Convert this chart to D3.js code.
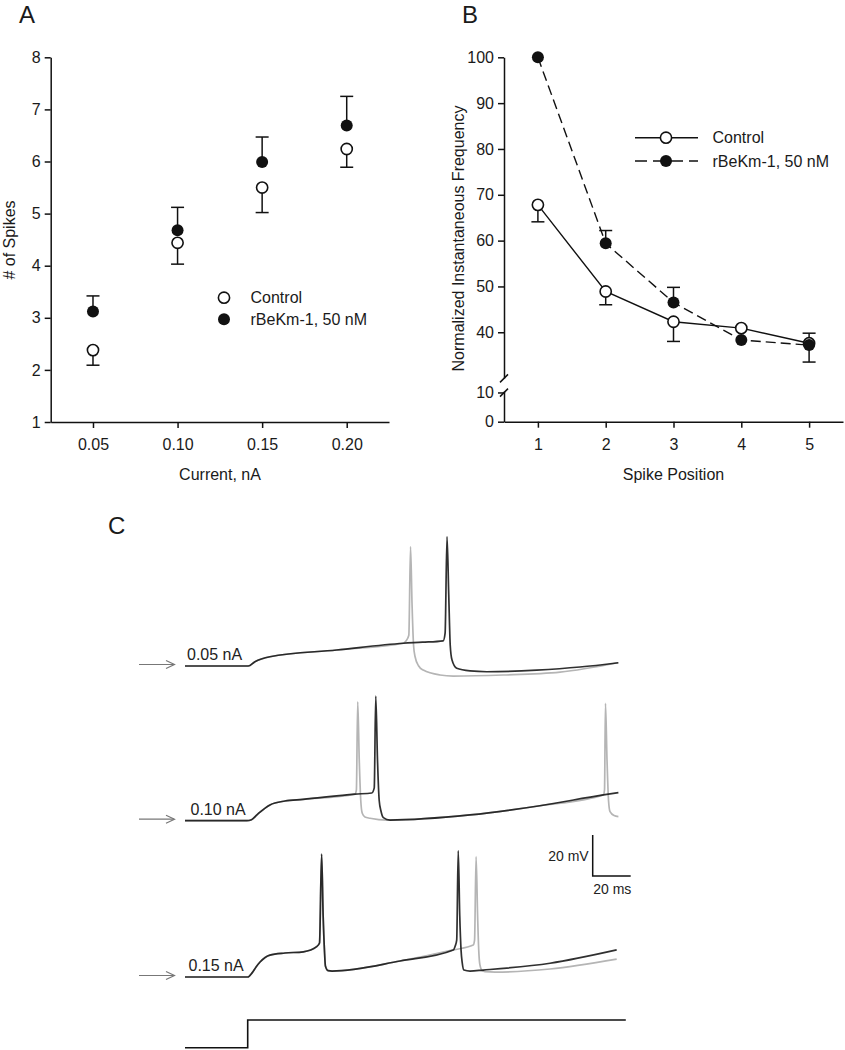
<!DOCTYPE html>
<html>
<head>
<meta charset="utf-8">
<script src="https://cdn.jsdelivr.net/npm/d3@7"></script>
<style>
  html, body { margin: 0; padding: 0; background: #fff; }
  svg { display: block; font-family: "Liberation Sans", Arial, sans-serif; }
  .axis path, .axis line { stroke: #111; stroke-width: 1.5; }
  .axis text { font-size: 16px; fill: #1a1a1a; font-family: "Liberation Sans", Arial, sans-serif; }
</style>
</head>
<body>
<svg id="fig" width="845" height="1050"></svg>
<script>
// ---------------- DATA ----------------
// Panel A: # of spikes vs current
const currents = [0.05, 0.10, 0.15, 0.20];
const currentTickLabels = ["0.05", "0.10", "0.15", "0.20"];
const spikeTicks = [1, 2, 3, 4, 5, 6, 7, 8];
const spikesControl = [2.38, 4.44, 5.50, 6.24];
const spikesControlSem = [0.29, 0.41, 0.48, 0.35];   // drawn downward
const spikesToxin = [3.12, 4.68, 5.99, 6.69];
const spikesToxinSem = [0.30, 0.44, 0.48, 0.56];     // drawn upward

// Panel B: normalized instantaneous frequency vs spike position
const positions = [1, 2, 3, 4, 5];
const freqControl = [67.8, 48.9, 42.3, 40.9, 37.6];
const freqControlSem = [3.7, 2.9, 4.3, 0.6, 4.1];     // drawn downward
const freqToxin = [100, 59.4, 46.5, 38.3, 37.2];
const freqToxinSem = [0, 2.8, 3.3, 0.5, 2.6];          // drawn upward
const freqTicksUpper = [40, 50, 60, 70, 80, 90, 100];
const freqTicksLower = [0, 10];

const seriesNames = ["Control", "rBeKm-1, 50 nM"];
const traceLabels = ["0.05 nA", "0.10 nA", "0.15 nA"];

// Panel C: membrane potential traces, [time ms, mV]
const trace1Common = [[0,-65],[33.3,-65],[36.8,-62.9],[44.7,-60.5],[79.8,-57.2],[114.9,-53.9]];
const trace1Gray = [[116.3,-52.8],[117.8,-50],[118.7,-6.8],[119.5,-35],[120.3,-55],[121.1,-60.5],[123,-65],[125.4,-67],[134.2,-69.4],[141.2,-69.9],[167.4,-69.4],[197.4,-68],[227.9,-63.4]];
const trace1Black = [[125,-53.4],[135.9,-52.7],[136.9,-49],[137.9,-1.9],[138.8,-30],[139.6,-55],[140.5,-62],[143,-66.1],[150,-67.4],[158.8,-67.8],[185.1,-67],[207.9,-65.5],[228.1,-63.4]];

const trace2Common = [[0,-65],[32.5,-65],[35,-64.5],[38,-62],[44.7,-57.3],[52.6,-55.4],[62.1,-54.6],[89.5,-52]];
const trace2Gray = [[90.2,-50],[90.9,-7],[91.7,-35],[92.5,-55],[93.3,-61.4],[94.7,-63.2],[97.4,-63.8],[106.2,-64.7],[150,-62.2],[186.8,-57.7],[220.2,-52.4],[220.8,-50],[221.3,-7.7],[222.1,-35],[222.9,-55],[223.7,-60.6],[225.8,-62.5],[228.1,-63]];
const trace2Black = [[98.3,-51.5],[99.6,-49],[100.4,-4.2],[101.3,-35],[102.2,-55],[103.2,-60.5],[104.4,-63.5],[107.9,-64.7],[150,-62.2],[186.8,-57.7],[220.2,-52.4],[228.1,-51.3]];

const trace3Common = [[0,-65],[33,-65],[35.3,-63],[37.5,-60],[39.5,-57.7],[44.7,-54.3],[52.6,-53.3],[62.3,-52.7],[69.3,-50.2],[70.8,-48.4],[71.9,-5],[72.7,-35],[73.4,-52],[73.9,-59.6],[75.3,-61.9],[77.4,-62.1],[113.2,-57.2],[141.2,-51.8]];
const trace3Black = [[142.1,-50.2],[143,-47],[143.8,-3.4],[144.6,-35],[145.3,-52],[145.9,-58],[146.8,-61.6],[150,-62.1],[157,-61.6],[192.1,-58.3],[227.2,-51.8]];
const trace3Gray = [[151.7,-49.4],[152.4,-47],[153.2,-6.3],[154,-35],[154.6,-52],[155.2,-59],[156.3,-61.8],[157.9,-62.4],[163.2,-62.6],[192.1,-61.1],[227.2,-56.3]];

const stimTimes = [0, 33, 232];
const stimLevels = [0, 1, 1];
const scaleBarMv = 20;
const scaleBarMs = 20;

// ---------------- DRAW ----------------
const svg = d3.select("#fig");
const textCol = "#1a1a1a";

function panelLabel(t, x, y) {
  svg.append("text").attr("x", x).attr("y", y).attr("font-size", 24)
    .attr("fill", textCol).text(t);
}

// ===== Panel A =====
panelLabel("A", 19, 23);
const xA = d3.scaleLinear().domain([0.025, 0.225]).range([50.7, 389]);
const yA = d3.scaleLinear().domain([1, 8]).range([422, 57.3]);

svg.append("g").attr("class", "axis").attr("transform", "translate(50.7,0)")
  .call(d3.axisLeft(yA).tickValues(spikeTicks).tickFormat(d3.format("d")).tickSize(6).tickSizeOuter(0).tickPadding(4));
svg.append("g").attr("class", "axis").attr("transform", "translate(0,422)")
  .call(d3.axisBottom(xA).tickValues(currents).tickFormat((d, i) => currentTickLabels[i]).tickSize(6).tickSizeOuter(0).tickPadding(11));

svg.append("text").attr("transform", "translate(14.5,240) rotate(-90)")
  .attr("text-anchor", "middle").attr("font-size", 16).attr("fill", textCol).text("# of Spikes");
svg.append("text").attr("x", 220).attr("y", 480).attr("text-anchor", "middle")
  .attr("font-size", 16).attr("fill", textCol).text("Current, nA");

const gA = svg.append("g");
function errBar(g, x, y0, y1) {
  g.append("line").attr("x1", x).attr("x2", x).attr("y1", y0).attr("y2", y1).attr("stroke", "#111").attr("stroke-width", 1.5);
  g.append("line").attr("x1", x - 6.5).attr("x2", x + 6.5).attr("y1", y1).attr("y2", y1).attr("stroke", "#111").attr("stroke-width", 1.5);
}
currents.forEach((c, i) => {
  errBar(gA, xA(c), yA(spikesControl[i]), yA(spikesControl[i] - spikesControlSem[i]));
  errBar(gA, xA(c), yA(spikesToxin[i]), yA(spikesToxin[i] + spikesToxinSem[i]));
});
gA.selectAll("circle.ctl").data(currents).join("circle")
  .attr("cx", d => xA(d)).attr("cy", (d, i) => yA(spikesControl[i])).attr("r", 5.6)
  .attr("fill", "#fff").attr("stroke", "#111").attr("stroke-width", 1.6);
gA.selectAll("circle.tox").data(currents).join("circle")
  .attr("cx", d => xA(d)).attr("cy", (d, i) => yA(spikesToxin[i])).attr("r", 6)
  .attr("fill", "#111");

// legend A
svg.append("circle").attr("cx", 224).attr("cy", 297.7).attr("r", 5.6).attr("fill", "#fff").attr("stroke", "#111").attr("stroke-width", 1.6);
svg.append("circle").attr("cx", 224).attr("cy", 319.3).attr("r", 6).attr("fill", "#111");
svg.append("text").attr("x", 250.5).attr("y", 303.3).attr("font-size", 16).attr("fill", textCol).text(seriesNames[0]);
svg.append("text").attr("x", 250.5).attr("y", 324.9).attr("font-size", 16).attr("fill", textCol).text(seriesNames[1]);

// ===== Panel B =====
panelLabel("B", 462, 23);
const axB = 504;
const xB = d3.scaleLinear().domain([0.5, 5.5]).range([axB, 843]);
const yBU = d3.scaleLinear().domain([30, 100]).range([378.1, 57.3]);

svg.append("g").attr("class", "axis").attr("transform", `translate(${axB},0)`)
  .call(d3.axisLeft(yBU).tickValues(freqTicksUpper).tickFormat(d3.format("d")).tickSize(6).tickSizeOuter(0).tickPadding(4));
svg.append("g").attr("class", "axis").attr("transform", `translate(${axB},0)`)
  .call(d3.axisLeft(d3.scaleLinear().domain([0, 10.5]).range([421.7, 391])).tickValues(freqTicksLower).tickFormat(d3.format("d")).tickSize(6).tickSizeOuter(0).tickPadding(4));
svg.append("g").attr("class", "axis").attr("transform", "translate(0,421.7)")
  .call(d3.axisBottom(xB).tickValues(positions).tickFormat(d3.format("d")).tickSize(6).tickSizeOuter(0).tickPadding(11));
// break marks
[378.4, 392.6].forEach(yy => {
  svg.append("line").attr("x1", axB - 4).attr("x2", axB + 4).attr("y1", yy + 4).attr("y2", yy - 4)
    .attr("stroke", "#111").attr("stroke-width", 1.5);
});

svg.append("text").attr("transform", "translate(464,238.5) rotate(-90)")
  .attr("text-anchor", "middle").attr("font-size", 16).attr("fill", textCol).text("Normalized Instantaneous Frequency");
svg.append("text").attr("x", 673.5).attr("y", 480).attr("text-anchor", "middle")
  .attr("font-size", 16).attr("fill", textCol).text("Spike Position");

const gB = svg.append("g");
const lineB = d3.line().x(d => xB(d[0])).y(d => yBU(d[1]));
gB.append("path").datum(positions.map((p, i) => [p, freqControl[i]])).attr("d", lineB)
  .attr("fill", "none").attr("stroke", "#111").attr("stroke-width", 1.4);
gB.append("path").datum(positions.map((p, i) => [p, freqToxin[i]])).attr("d", lineB)
  .attr("fill", "none").attr("stroke", "#111").attr("stroke-width", 1.4).attr("stroke-dasharray", "10,5");
positions.forEach((p, i) => {
  if (freqControlSem[i] > 1) errBar(gB, xB(p), yBU(freqControl[i]), yBU(freqControl[i] - freqControlSem[i]));
  if (freqToxinSem[i] > 1) errBar(gB, xB(p), yBU(freqToxin[i]), yBU(freqToxin[i] + freqToxinSem[i]));
});
gB.selectAll("circle.ctl").data(positions).join("circle")
  .attr("cx", d => xB(d)).attr("cy", (d, i) => yBU(freqControl[i])).attr("r", 5.6)
  .attr("fill", "#fff").attr("stroke", "#111").attr("stroke-width", 1.6);
gB.selectAll("circle.tox").data(positions).join("circle")
  .attr("cx", d => xB(d)).attr("cy", (d, i) => yBU(freqToxin[i])).attr("r", 6)
  .attr("fill", "#111");

// legend B
svg.append("line").attr("x1", 635).attr("x2", 698).attr("y1", 137.7).attr("y2", 137.7).attr("stroke", "#111").attr("stroke-width", 1.4);
svg.append("circle").attr("cx", 666).attr("cy", 137.7).attr("r", 5.6).attr("fill", "#fff").attr("stroke", "#111").attr("stroke-width", 1.6);
svg.append("line").attr("x1", 635).attr("x2", 698).attr("y1", 161).attr("y2", 161).attr("stroke", "#111").attr("stroke-width", 1.4).attr("stroke-dasharray", "12,6");
svg.append("circle").attr("cx", 666).attr("cy", 161).attr("r", 6).attr("fill", "#111");
svg.append("text").attr("x", 712.5).attr("y", 143.3).attr("font-size", 16).attr("fill", textCol).text(seriesNames[0]);
svg.append("text").attr("x", 712.5).attr("y", 166.6).attr("font-size", 16).attr("fill", textCol).text(seriesNames[1]);

// ===== Panel C =====
panelLabel("C", 108, 534);
const xC = d3.scaleLinear().domain([0, 20]).range([185, 185 + 38]);
const mvPx = 41 / 20;
const baselines = [666, 820.7, 977];
const traces = [
  { common: trace1Common, gray: trace1Gray, black: trace1Black },
  { common: trace2Common, gray: trace2Gray, black: trace2Black },
  { common: trace3Common, gray: trace3Gray, black: trace3Black }
];
const gC = svg.append("g");
traces.forEach((tr, k) => {
  const yC = d3.scaleLinear().domain([-65, -15]).range([baselines[k], baselines[k] - 50 * mvPx]);
  const ln = d3.line().x(d => xC(d[0])).y(d => yC(d[1])).curve(d3.curveMonotoneX);
  gC.append("path").datum(tr.common.concat(tr.gray)).attr("d", ln)
    .attr("fill", "none").attr("stroke", "#b5b5b5").attr("stroke-width", 1.7).attr("stroke-linejoin", "round");
  gC.append("path").datum(tr.common.concat(tr.black)).attr("d", ln)
    .attr("fill", "none").attr("stroke", "#1a1a1a").attr("stroke-width", 1.7).attr("stroke-linejoin", "round").attr("stroke-opacity", 0.9);
  gC.append("text").attr("x", 187 + (k === 1 ? 3.5 : k === 2 ? 1.5 : 0)).attr("y", baselines[k] - 6)
    .attr("font-size", 16).attr("fill", "#222").text(traceLabels[k]);
  const ay = baselines[k] - 1.5;
  const ag = gC.append("g").attr("stroke", "#777").attr("stroke-width", 1.2).attr("fill", "none");
  ag.append("line").attr("x1", 139).attr("x2", 174).attr("y1", ay).attr("y2", ay);
  ag.append("path").attr("d", `M166,${ay - 4} L174.5,${ay} L166,${ay + 4}`);
});

// stimulus step
const yStim = d3.scaleLinear().domain([0, 1]).range([1047.7, 1020]);
gC.append("path").datum(stimTimes.map((t, i) => [t, stimLevels[i]]))
  .attr("d", d3.line().x(d => xC(d[0])).y(d => yStim(d[1])).curve(d3.curveStepAfter))
  .attr("fill", "none").attr("stroke", "#111").attr("stroke-width", 1.6);

// scale bar
const sbx = 592.7, sby = 876;
const barW = xC(scaleBarMs) - xC(0), barH = scaleBarMv * mvPx;
gC.append("path").attr("d", `M${sbx},${sby - barH} L${sbx},${sby} L${sbx + barW},${sby}`)
  .attr("fill", "none").attr("stroke", "#111").attr("stroke-width", 1.5);
gC.append("text").attr("x", sbx - 4).attr("y", sby - 15).attr("text-anchor", "end")
  .attr("font-size", 14).attr("fill", "#222").text(scaleBarMv + " mV");
gC.append("text").attr("x", sbx + 0.5).attr("y", sby + 18)
  .attr("font-size", 14).attr("fill", "#222").text(scaleBarMs + " ms");
</script>
</body>
</html>
